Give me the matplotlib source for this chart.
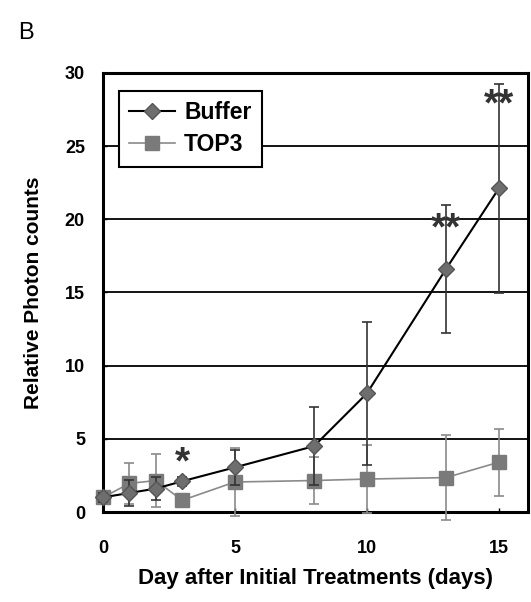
import matplotlib
matplotlib.use("Agg")
import matplotlib.pyplot as plt

days = [0, 1, 2, 3, 5, 8, 10, 13, 15]
buffer_vals = [1.0, 1.3, 1.6, 2.1, 3.05, 4.5, 8.1, 16.6, 22.1]
buffer_err = [0.3, 0.9, 0.8, 0.3, 1.2, 2.65, 4.9, 4.35, 7.15]
top3_vals = [1.0, 1.95, 2.15, 0.8, 2.05, 2.15, 2.25, 2.35, 3.4]
top3_err = [0.3, 1.43, 1.8, 0.2, 2.3, 1.6, 2.35, 2.9, 2.3]
series_names = ["Buffer", "TOP3"]
star_days = [3, 13, 15]
star_y = [3.3, 19.3, 27.8]
star_text = ["*", "**", "**"]
yticks = [0, 5, 10, 15, 20, 25, 30]
xticks = [0, 5, 10, 15]

plt.rcParams['font.family'] = ['Liberation Sans', 'DejaVu Sans']

fig = plt.figure(figsize=(5.31, 6.02), dpi=100)
ax = fig.add_axes([0.194, 0.1495, 0.8, 0.7295])

ax.set_xlim(0, 16.1)
ax.set_ylim(0, 30)
for y in yticks[1:-1]:
    ax.axhline(y, color='black', lw=1.3, zorder=1)

ax.errorbar(days, top3_vals, yerr=top3_err, color='#8a8a8a', lw=1.2,
            marker='s', markersize=10, markerfacecolor='#7a7a7a',
            markeredgecolor='#7a7a7a', ecolor='#8a8a8a', elinewidth=1.2,
            capsize=3.5, capthick=1.2, label=series_names[1], zorder=3, clip_on=False)
ax.errorbar(days, buffer_vals, yerr=buffer_err, color='black', lw=1.5,
            marker='D', markersize=8, markerfacecolor='#6e6e6e',
            markeredgecolor='#555555', ecolor='#333333', elinewidth=1.2,
            capsize=3.5, capthick=1.2, label=series_names[0], zorder=4, clip_on=False)

for d, y, t in zip(star_days, star_y, star_text):
    ax.text(d, y, t, ha='center', va='center', fontsize=28, fontweight='bold',
            color='#333333', zorder=5)

ax.set_xticks(xticks)
ax.set_yticks(yticks)
ax.tick_params(axis='both', direction='in', length=3, width=1, labelsize=13)
for lab in ax.get_xticklabels() + ax.get_yticklabels():
    lab.set_fontweight('bold')
ax.tick_params(axis='y', pad=13)
ax.tick_params(axis='x', pad=20)

for s in ax.spines.values():
    s.set_linewidth(2.2)
    s.set_color('black')

ax.set_xlabel("Day after Initial Treatments (days)", fontsize=16, fontweight='bold', labelpad=8)
ax.set_ylabel("Relative Photon counts", fontsize=15, fontweight='bold', labelpad=16)

handles, labels = ax.get_legend_handles_labels()
order = [1, 0]
leg = ax.legend([handles[i][0] for i in order], [labels[i] for i in order],
                loc='upper left', bbox_to_anchor=(0.01, 0.985),
                prop={'weight': 'bold', 'size': 16.5}, frameon=True, fancybox=False,
                edgecolor='black', framealpha=1, handlelength=2.0, borderpad=0.45,
                labelspacing=0.4, handletextpad=0.4)
leg.get_frame().set_linewidth(1.5)
leg.set_zorder(6)

fig.text(0.035, 0.945, "B", fontsize=17, ha='left', va='center')

fig.savefig("out.png", dpi=100, facecolor='white')
